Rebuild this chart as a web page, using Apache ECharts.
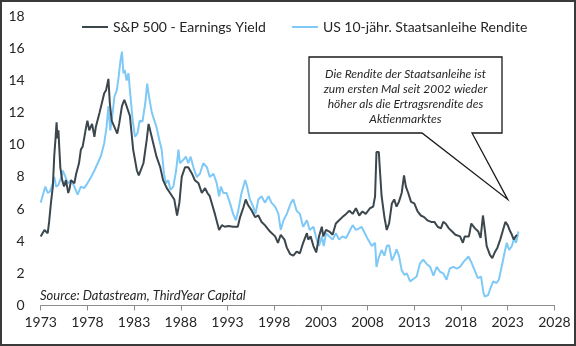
<!DOCTYPE html>
<html><head><meta charset="utf-8">
<script src="https://cdn.jsdelivr.net/npm/echarts@6/dist/echarts.min.js"></script>
<style>html,body{margin:0;padding:0;background:#fff}#c{width:576px;height:346px}</style>
</head><body><div id="c"></div>
<script>
// ---- data ----
const baseYear = 1973;
const endYear = 2028;
const seriesNames = ['S&P 500 - Earnings Yield', 'US 10-jähr. Staatsanleihe Rendite'];

const spxYears = [
1973.0,1973.4,1973.75,1973.9,1974.1,1974.3,1974.45,1974.6,1974.7,1974.8,
1974.9,1975.0,1975.1,1975.3,1975.5,1975.7,1975.95,1976.1,1976.25,1976.6,
1976.8,1977.1,1977.3,1977.5,1977.8,1978.0,1978.2,1978.5,1978.75,1978.9,
1979.3,1979.55,1979.8,1980.0,1980.25,1980.4,1980.6,1980.9,1981.2,1981.4,
1981.7,1981.95,1982.2,1982.55,1982.9,1983.3,1983.5,1984.0,1984.35,1984.55,
1984.8,1985.05,1985.4,1985.8,1986.1,1986.5,1986.85,1987.3,1987.6,1987.85,
1988.1,1988.45,1988.8,1989.2,1989.5,1989.9,1990.25,1990.6,1990.85,1991.1,
1991.65,1992.1,1992.4,1992.7,1993.1,1993.6,1994.1,1994.35,1994.7,1994.95,
1995.2,1995.6,1995.95,1996.3,1996.65,1997.0,1997.55,1998.1,1998.4,1998.7,
1999.1,1999.35,1999.7,2000.05,2000.4,2000.75,2001.1,2001.5,2001.65,2001.9,
2002.2,2002.5,2002.8,2003.1,2003.25,2003.55,2003.9,2004.25,2004.6,2004.95,
2005.3,2005.7,2006.05,2006.4,2006.75,2007.1,2007.45,2007.8,2008.25,2008.6,
2008.8,2008.95,2009.2,2009.3,2009.5,2009.8,2010.05,2010.3,2010.6,2010.85,
2011.1,2011.35,2011.65,2011.9,2012.1,2012.35,2012.65,2013.0,2013.35,2013.7,
2014.05,2014.4,2014.8,2015.15,2015.5,2015.85,2016.1,2016.35,2016.7,2017.05,
2017.4,2017.9,2018.2,2018.4,2018.85,2019.1,2019.5,2019.85,2020.1,2020.35,
2020.55,2020.75,2021.1,2021.35,2021.65,2021.9,2022.2,2022.5,2022.75,2023.0,
2023.2,2023.45,2023.65,2023.85,2024.0];
const spxValues = [
4.3,4.7,4.5,5.2,6.4,7.4,9.3,10.5,11.4,10.4,
10.9,9.7,8.6,7.8,7.4,7.8,7.0,7.3,7.8,7.6,
8.2,8.85,9.7,9.9,10.9,11.5,10.9,11.3,10.5,11.1,
12.0,12.6,13.2,13.4,14.1,12.6,11.5,11.1,10.7,11.3,
12.4,12.8,12.4,11.8,9.7,8.4,8.1,8.85,10.3,11.3,
10.7,10.1,9.26,8.6,7.8,7.3,7.0,6.6,5.6,6.4,
8.0,8.6,8.6,8.2,7.8,7.6,7.0,7.3,7.0,6.8,
5.7,4.7,5.0,4.9,4.95,4.9,4.9,5.5,6.1,6.6,
6.25,5.9,5.5,5.6,5.2,5.0,4.6,4.3,3.9,4.4,
4.1,3.6,3.2,3.1,3.35,3.25,3.9,4.5,4.1,4.3,
3.7,3.3,4.3,4.9,4.3,4.7,4.6,4.4,5.1,5.3,
5.5,5.7,5.9,5.7,6.05,5.6,5.85,5.7,6.05,6.15,
6.8,9.55,9.55,8.6,6.8,5.5,4.7,5.1,6.35,6.6,
6.15,6.45,7.0,8.1,7.4,7.0,6.45,6.35,5.85,5.6,
5.5,5.3,5.2,5.2,4.9,4.8,5.2,5.1,4.8,4.6,
4.4,4.3,3.9,4.3,4.3,5.1,4.8,4.6,4.2,5.6,
4.7,3.7,3.15,2.95,3.35,3.6,4.1,4.7,5.2,5.0,
4.7,4.4,4.1,4.3,4.4];

const ustYears = [
1973.0,1973.2,1973.5,1973.75,1974.0,1974.3,1974.45,1974.65,1974.9,1975.2,
1975.35,1975.65,1975.9,1976.25,1976.6,1976.95,1977.3,1977.65,1978.0,1978.4,
1978.75,1979.1,1979.45,1979.8,1980.05,1980.25,1980.45,1980.65,1980.9,1981.15,
1981.35,1981.55,1981.7,1981.85,1982.0,1982.2,1982.4,1982.55,1982.85,1983.1,
1983.35,1983.6,1983.9,1984.2,1984.4,1984.6,1984.9,1985.1,1985.4,1985.7,
1985.95,1986.2,1986.4,1986.65,1986.9,1987.2,1987.5,1987.75,1987.9,1988.25,
1988.55,1988.8,1989.05,1989.35,1989.7,1990.05,1990.4,1990.8,1991.1,1991.5,
1991.85,1992.1,1992.3,1992.55,1992.9,1993.25,1993.6,1993.9,1994.15,1994.5,
1994.9,1995.1,1995.4,1995.75,1996.0,1996.3,1996.65,1997.0,1997.4,1997.7,
1998.1,1998.45,1998.7,1999.0,1999.35,1999.8,2000.05,2000.4,2000.75,2001.1,
2001.5,2001.8,2002.2,2002.55,2002.8,2003.1,2003.3,2003.55,2003.9,2004.25,
2004.6,2004.95,2005.3,2005.7,2006.05,2006.4,2006.75,2007.1,2007.35,2007.7,
2008.05,2008.45,2008.8,2008.95,2009.2,2009.5,2009.8,2010.05,2010.3,2010.6,
2010.85,2011.1,2011.35,2011.65,2011.95,2012.2,2012.55,2012.9,2013.25,2013.6,
2013.95,2014.3,2014.7,2015.05,2015.4,2015.75,2016.1,2016.45,2016.8,2017.2,
2017.55,2017.9,2018.25,2018.8,2019.1,2019.45,2019.8,2020.15,2020.4,2020.55,
2020.9,2021.2,2021.45,2021.8,2022.05,2022.35,2022.65,2022.9,2023.15,2023.45,
2023.7,2023.9,2024.15];
const ustValues = [
6.4,6.8,7.4,7.0,7.1,7.6,8.0,7.4,7.5,8.0,
8.4,8.0,7.6,7.8,7.4,6.9,7.4,7.3,7.6,8.0,
8.4,8.85,9.3,10.1,11.1,12.4,10.9,11.75,13.0,13.4,
14.25,15.3,15.8,14.45,14.65,14.0,14.45,13.4,11.5,10.5,
10.7,11.5,11.45,12.6,13.8,13.0,12.0,12.0,11.1,10.3,
9.7,8.2,7.6,7.8,7.2,7.4,8.4,9.7,8.85,9.05,
9.26,8.85,9.26,8.6,8.0,8.2,8.85,8.6,8.0,8.2,
7.6,6.8,7.4,7.0,7.0,6.4,5.7,5.3,5.9,7.0,
7.8,7.4,6.6,6.15,5.7,6.6,6.8,6.4,6.8,6.4,
6.15,5.7,4.7,5.3,5.7,6.4,6.6,5.9,5.7,4.9,
5.3,4.7,4.9,4.1,3.7,4.3,3.7,4.5,4.3,4.1,
4.5,4.1,4.3,4.2,4.6,5.0,4.7,4.8,4.9,4.5,
4.1,3.7,3.9,2.4,3.0,3.45,3.1,3.7,3.75,2.8,
3.1,3.5,3.1,2.2,1.9,2.0,1.5,1.65,1.8,2.6,
2.85,2.6,2.4,1.85,2.4,2.1,2.0,1.6,2.3,2.4,
2.3,2.4,2.7,3.05,2.7,2.2,1.7,1.8,0.8,0.55,
0.65,1.15,1.5,1.4,1.6,2.4,3.25,3.9,3.45,3.7,
4.2,3.9,4.6];

const annotationLines = [
  'Die Rendite der Staatsanleihe ist',
  'zum ersten Mal seit 2002 wieder',
  'höher als die Ertragsrendite des',
  'Aktienmarktes'
];
const sourceText = 'Source: Datastream, ThirdYear Capital';
const calloutTarget = [2023.0, 6.6];

// ---- chart ----
const FONT = 'Lato';
const pairs = (xs, ys) => xs.map((x, i) => [x - baseYear, ys[i]]);
const chart = echarts.init(document.getElementById('c'), null, {renderer: 'canvas'});

chart.setOption({
  animation: false,
  backgroundColor: '#ffffff',
  textStyle: {fontFamily: FONT},
  grid: {left: 40.7, right: 21.6, top: 16.2, bottom: 40.5},
  legend: {
    left: 77, top: 15, icon: 'rect', itemWidth: 26, itemHeight: 2, itemGap: 26,
    textStyle: {fontSize: 14, color: '#262626', fontFamily: FONT},
    data: seriesNames
  },
  xAxis: {
    type: 'value', min: 0, max: endYear - baseYear, interval: 5,
    axisLine: {lineStyle: {color: '#8c8c8c', width: 1}},
    axisTick: {show: true, length: 5, lineStyle: {color: '#8c8c8c'}},
    splitLine: {show: false},
    axisLabel: {formatter: v => String(v + baseYear), fontSize: 14, color: '#262626', margin: 10, fontFamily: FONT}
  },
  yAxis: {
    type: 'value', min: 0, max: 18, interval: 2,
    axisLine: {show: false}, axisTick: {show: false}, splitLine: {show: false},
    axisLabel: {fontSize: 14, color: '#262626', margin: 16, fontFamily: FONT}
  },
  series: [
    {name: seriesNames[0], type: 'line', data: pairs(spxYears, spxValues), symbol: 'none',
     lineStyle: {color: '#3b464d', width: 2}, itemStyle: {color: '#3b464d'}, z: 3},
    {name: seriesNames[1], type: 'line', data: pairs(ustYears, ustValues), symbol: 'none',
     lineStyle: {color: '#7fc9f7', width: 2}, itemStyle: {color: '#7fc9f7'}, z: 2}
  ]
});

const tip = chart.convertToPixel({gridIndex: 0}, [calloutTarget[0] - baseYear, calloutTarget[1]]);
const bx0 = 309, by0 = 57, bx1 = 502, by1 = 133;
chart.setOption({
  graphic: [
    {type: 'polygon', z: 100,
     shape: {points: [[bx0, by0], [bx1, by0], [bx1, by1], [472, by1], tip, [422, by1], [bx0, by1]]},
     style: {fill: '#ffffff', stroke: '#1a1a1a', lineWidth: 1.3}},
    {type: 'text', z: 101, x: (bx0 + bx1) / 2, y: 67,
     style: {text: annotationLines.join('\n'), fill: '#262626', align: 'center', verticalAlign: 'top',
       font: 'italic 12px Lato', lineHeight: 15}},
    {type: 'text', z: 101, x: 40, y: 289,
     style: {text: sourceText, fill: '#262626', font: 'italic 13px Lato'}},
    {type: 'rect', z: 102, shape: {x: 1, y: 1, width: 574, height: 344},
     style: {fill: 'none', stroke: '#3a3a3a', lineWidth: 2}}
  ]
});
</script></body></html>
